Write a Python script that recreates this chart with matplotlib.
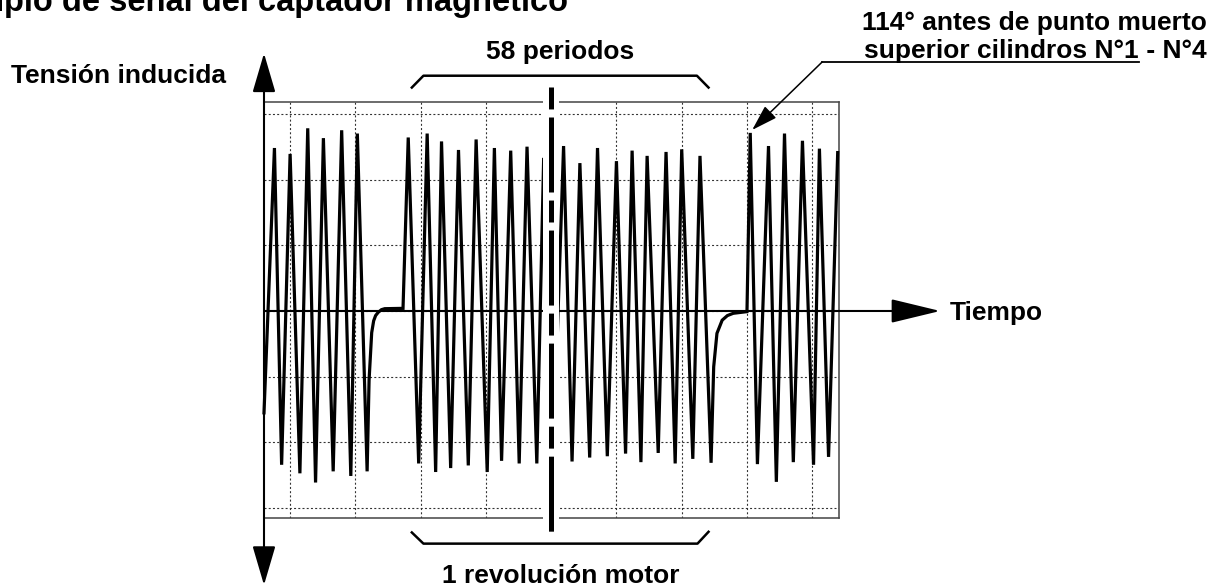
import matplotlib
matplotlib.use("Agg")
import matplotlib.pyplot as plt

plt.rcParams['font.family'] = ['Liberation Sans', 'DejaVu Sans']
plt.rcParams['font.weight'] = 'bold'
plt.rcParams['lines.scale_dashes'] = False

# Señal del captador: tiempo y tensión en divisiones de la pantalla
tiempo = [-4.40, -4.24, -4.13, -4.00, -3.85, -3.73, -3.61, -3.49, -3.34, -3.21,
          -3.07, -2.97, -2.82,
          -2.79, -2.75, -2.72, -2.69, -2.65, -2.60, -2.55, -2.27,
          -2.19, -2.03, -1.90, -1.77, -1.68, -1.54, -1.42, -1.27, -1.15, -0.98,
          -0.87, -0.76, -0.62, -0.49, -0.37, -0.22, -0.115, 0.03, 0.19, 0.32,
          0.44, 0.59, 0.71, 0.86, 1.00, 1.14, 1.24, 1.375, 1.47, 1.64,
          1.76, 1.90, 2.00, 2.17, 2.28, 2.45,
          2.49, 2.54, 2.62, 2.70, 2.79, 3.00,
          3.05, 3.16, 3.33, 3.45, 3.575, 3.71, 3.85, 4.02, 4.11, 4.25, 4.39]
tension = [-1.55, 2.48, -2.34, 2.39, -2.47, 2.78, -2.61, 2.63, -2.44, 2.75,
           -2.51, 2.70, -2.44,
           -1.05, -0.33, -0.15, -0.07, -0.02, 0.02, 0.035, 0.04,
           2.64, -2.32, 2.70, -2.45, 2.58, -2.39, 2.45, -2.35, 2.61, -2.45,
           2.48, -2.28, 2.44, -2.32, 2.50, -2.32, 2.33, -2.30, 2.51, -2.29,
           2.25, -2.23, 2.48, -2.21, 2.28, -2.17, 2.44, -2.30, 2.36, -2.16,
           2.42, -2.32, 2.46, -2.25, 2.36, -2.31,
           -0.85, -0.34, -0.14, -0.07, -0.035, -0.01,
           2.71, -2.33, 2.51, -2.60, 2.70, -2.30, 2.59, -2.34, 2.47, -2.22, 2.41]

# Divisiones de la rejilla
div_x = [-4, -3, -2, -1, 0, 1, 2, 3, 4]
div_y = [-3, -2, -1, 0, 1, 2, 3]

titulo = "Ejemplo de señal del captador magnético"
eje_y = "Tensión inducida"
eje_x = "Tiempo"
periodos = "58 periodos"
revolucion = "1 revolución motor"
nota_1 = "114° antes de punto muerto"
nota_2a = "superior cilindros N°1"
nota_2b = " - N°4"

fig = plt.figure(figsize=(12.19, 5.86), dpi=100)
ax = fig.add_axes([264 / 1219, 68 / 586, 575 / 1219, 416 / 586])
ax.set_xlim(-4.40, 4.41)
ax.set_ylim(-3.15, 3.18)

# pantalla
ax.set_xticks(div_x)
ax.set_yticks(div_y)
ax.tick_params(length=0, labelbottom=False, labelleft=False)
ax.grid(True, color='#333333', lw=0.8, ls=(0, (1.44, 1.6)))
for s in ax.spines.values():
    s.set_color('#444444')
    s.set_linewidth(1.1)

# señal
ax.plot(tiempo, tension, color='k', lw=2.3, solid_joinstyle='miter',
        zorder=3, clip_on=False)

# ejes con flechas
x0 = -4.40
ax.annotate('', xy=(x0, 3.92), xytext=(x0, -4.17), annotation_clip=False,
            arrowprops=dict(arrowstyle='<|-|>,head_length=24.5,head_width=7.2',
                            mutation_scale=1, lw=1.5, color='k',
                            shrinkA=0, shrinkB=0))
ax.annotate('', xy=(5.96, 0), xytext=(x0, 0), annotation_clip=False,
            arrowprops=dict(arrowstyle='-|>,head_length=31,head_width=7.5',
                            mutation_scale=1, lw=1.5, color='k',
                            shrinkA=0, shrinkB=0), zorder=3)

# línea de revolución (trazo y punto) con fondo blanco
ax.fill_betweenx([-3.36, 3.42], -0.123, 0.123, color='white', lw=0,
                 zorder=4, clip_on=False)
ax.plot([0, 0], [3.414, -3.359], color='k', lw=3.6,
        ls=(0, (15.8, 5.8, 54, 5.8)), dash_capstyle='butt',
        zorder=5, clip_on=False)

# llaves
ax.plot([-2.135, -1.957, 2.233, 2.411], [3.40, 3.58, 3.58, 3.40],
        color='k', lw=1.8, clip_on=False)
ax.plot([-2.135, -1.957, 2.242, 2.411], [-3.37, -3.54, -3.54, -3.36],
        color='k', lw=1.8, clip_on=False)

fs = 19
ax.text(0.14, 3.84, periodos, ha='center', va='baseline', fontsize=fs)
ax.text(0.14, -4.135, revolucion, ha='center', va='baseline', fontsize=fs)
ax.text(-4.98, 3.47, eje_y, ha='right', va='baseline', fontsize=fs)
ax.text(6.11, -0.14, eje_x, ha='left', va='baseline', fontsize=fs)
ax.text(0.26, 4.57, titulo, ha='right', va='baseline', fontsize=23.5)

# nota del punto muerto superior
ax.text(10.04, 4.27, nota_1, ha='right', va='baseline', fontsize=fs)
ax.text(9.0, 3.85, nota_2a, ha='right', va='baseline', fontsize=fs)
ax.text(9.0, 3.85, nota_2b, ha='left', va='baseline', fontsize=fs)
ax.plot([4.153, 9.0], [3.79, 3.79], color='k', lw=1.3, clip_on=False)
ax.annotate('', xy=(3.08, 2.755), xytext=(4.153, 3.79), annotation_clip=False,
            arrowprops=dict(arrowstyle='-|>,head_length=16,head_width=5',
                            mutation_scale=1, lw=1.1, color='k',
                            shrinkA=0, shrinkB=0))

fig.savefig('out.png', dpi=100)
